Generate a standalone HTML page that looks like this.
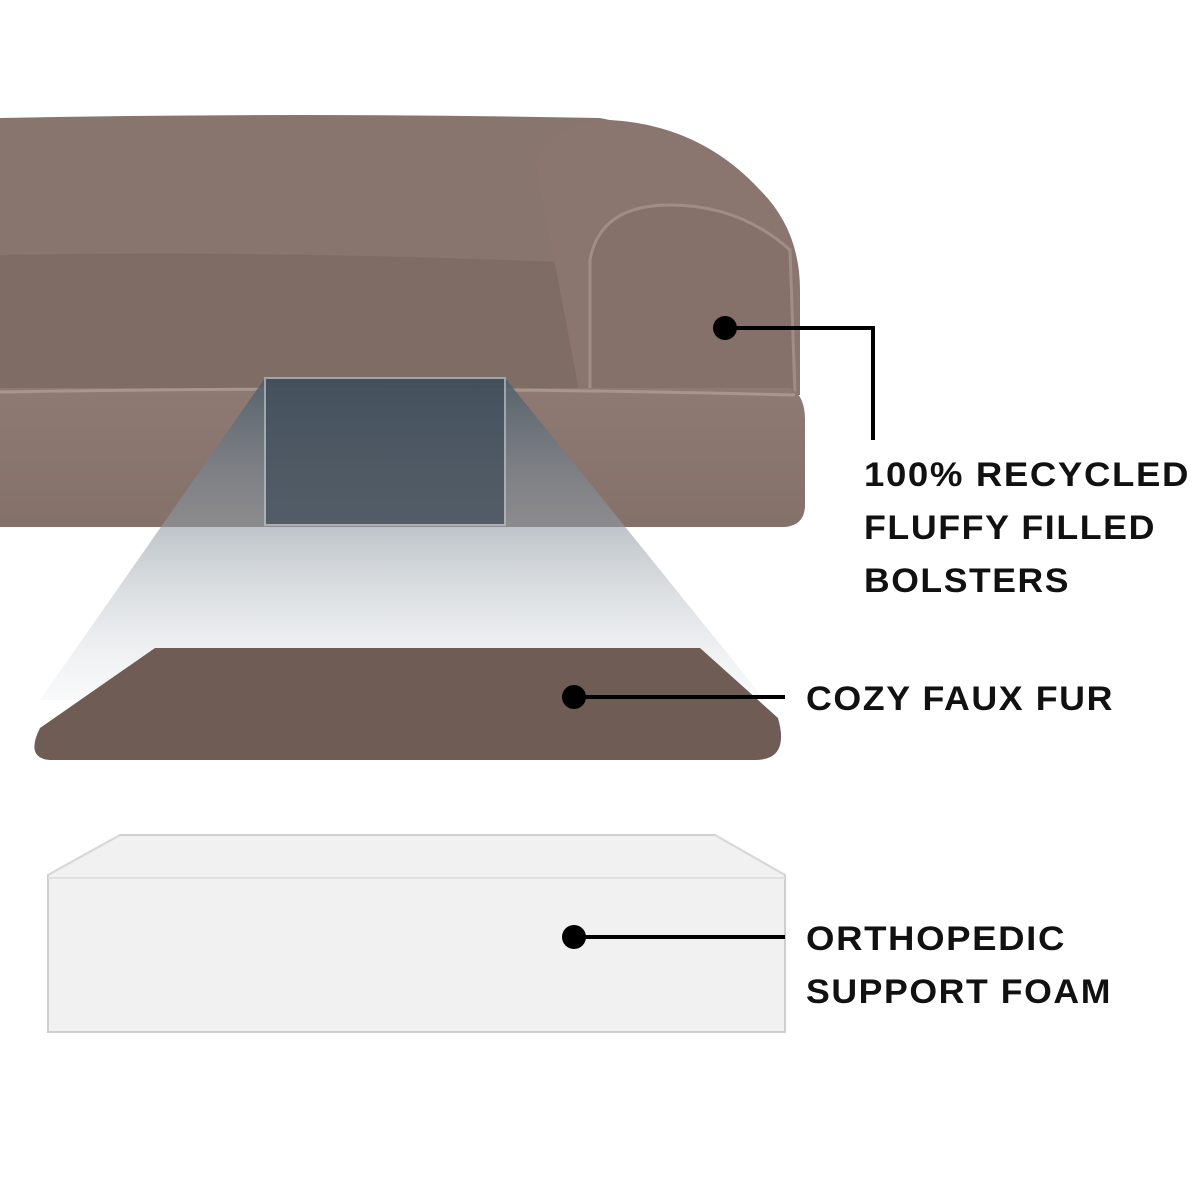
<!DOCTYPE html>
<html><head><meta charset="utf-8"><style>
html,body{margin:0;padding:0;background:#fff;width:1200px;height:1200px;overflow:hidden}
svg{display:block}
text{font-family:"Liberation Sans",sans-serif;font-weight:bold;fill:#111;letter-spacing:1.5px}
</style></head><body>
<svg width="1200" height="1200" viewBox="0 0 1200 1200">
<defs>
<linearGradient id="cone" x1="0" y1="0" x2="0" y2="1">
<stop offset="0" stop-color="#4f5d69" stop-opacity="0.9"/>
<stop offset="0.45" stop-color="#8f9aa3" stop-opacity="0.6"/>
<stop offset="1" stop-color="#dfe3e6" stop-opacity="0.2"/>
</linearGradient>
<linearGradient id="base" x1="0" y1="0" x2="0" y2="1">
<stop offset="0" stop-color="#8e7a72"/><stop offset="1" stop-color="#84716a"/>
</linearGradient>
</defs>
<!-- back bolster -->
<path d="M0,118 Q300,112 600,118 Q640,125 660,150 L660,270 L0,270 Z" fill="#88756d"/>
<!-- seat -->
<path d="M0,255 Q250,250 560,262 L600,390 L0,390 Z" fill="#7f6c65"/>
<!-- right bolster -->
<path d="M535,160 Q560,120 610,120 Q700,125 760,190 Q800,230 800,290 L800,395 L580,395 Z" fill="#8a766e"/>
<path d="M590,395 L590,260 Q600,205 670,205 Q740,205 790,250 L795,395 Z" fill="#85716a" stroke="#a08d85" stroke-width="3"/>
<!-- base -->
<path d="M0,388 L790,388 Q805,395 805,420 L805,505 Q805,525 785,527 L0,527 Z" fill="url(#base)"/>
<path d="M0,392 Q400,385 795,395" stroke="#a8958c" stroke-width="3" fill="none"/>
<!-- cone -->
<polygon points="265,378 505,378 765,700 40,700" fill="url(#cone)"/>
<rect x="265" y="378" width="240" height="147" fill="#3c4a57" opacity="0.7" stroke="#b8c0c6" stroke-width="2"/>
<!-- faux fur layer -->
<path d="M155,648 L700,648 L778,718 Q790,760 755,760 L50,760 Q25,758 40,728 Z" fill="#6f5c55"/>
<!-- foam -->
<path d="M120,835 L715,835 L785,875 L785,1032 L48,1032 L48,875 Z" fill="#f1f1f1" stroke="#cfcfcf" stroke-width="2"/>
<path d="M48,878 L785,878" stroke="#e0e0e0" stroke-width="2"/>
<path d="M120,835 L48,875 M715,835 L785,875" stroke="#d8d8d8" stroke-width="2"/>
<!-- callouts -->
<circle cx="725" cy="328" r="12" fill="#000"/>
<polyline points="725,328 873,328 873,440" stroke="#000" stroke-width="4" fill="none"/>
<circle cx="574" cy="697" r="12" fill="#000"/>
<line x1="574" y1="697" x2="785" y2="697" stroke="#000" stroke-width="4"/>
<circle cx="574" cy="937" r="12" fill="#000"/>
<line x1="574" y1="937" x2="785" y2="937" stroke="#000" stroke-width="4"/>
<text x="864" y="486" font-size="34" textLength="326" lengthAdjust="spacingAndGlyphs">100% RECYCLED</text>
<text x="864" y="539" font-size="34" textLength="292" lengthAdjust="spacingAndGlyphs">FLUFFY FILLED</text>
<text x="864" y="592" font-size="34" textLength="206" lengthAdjust="spacingAndGlyphs">BOLSTERS</text>
<text x="806" y="710" font-size="34" textLength="308" lengthAdjust="spacingAndGlyphs">COZY FAUX FUR</text>
<text x="806" y="950" font-size="34" textLength="260" lengthAdjust="spacingAndGlyphs">ORTHOPEDIC</text>
<text x="806" y="1003" font-size="34" textLength="306" lengthAdjust="spacingAndGlyphs">SUPPORT FOAM</text>
</svg>
</body></html>
